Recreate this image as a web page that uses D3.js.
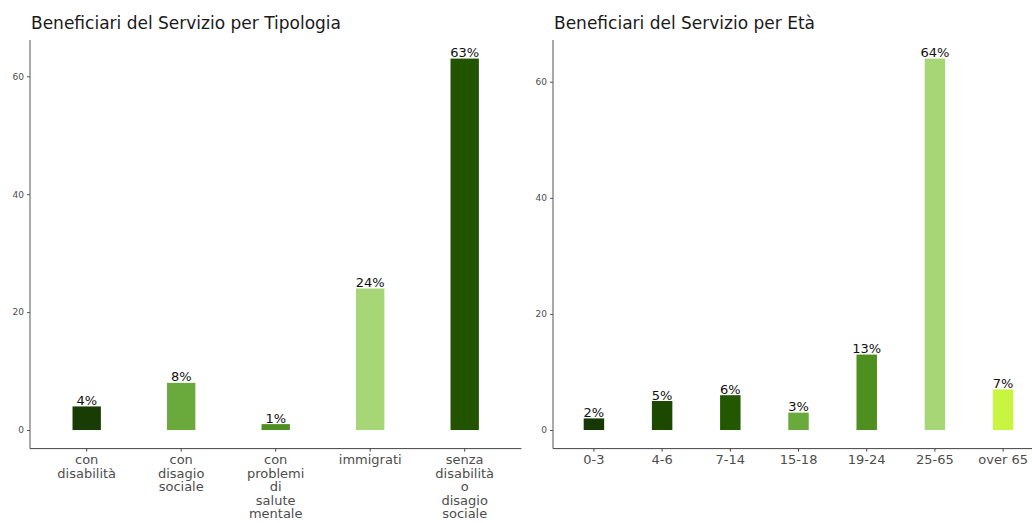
<!DOCTYPE html>
<html><head><meta charset="utf-8">
<script src="https://cdn.jsdelivr.net/npm/d3@7"></script>
<style>body{margin:0;background:#fff}svg{display:block}text{font-family:"DejaVu Sans",sans-serif}</style>
</head><body><svg id="c" width="1032" height="523"></svg>
<script>
const typeCats = ["con disabilità","con disagio sociale","con problemi di salute mentale","immigrati","senza disabilità o disagio sociale"];
const typeVals = [4, 8, 1, 24, 63];
const typeColors = ["#183c04","#6aaa3c","#4e8f1f","#a6d676","#225400"];
const ageCats = ["0-3","4-6","7-14","15-18","19-24","25-65","over 65"];
const ageVals = [2, 5, 6, 3, 13, 64, 7];
const ageColors = ["#163804","#1d4800","#245800","#6aaa3c","#4e8f1f","#a6d676","#c8f542"];
const yTicks = [0, 20, 40, 60];

const svg = d3.select("#c");

function panel(o){
  const g = svg.append("g");
  const n = o.cats.length;
  const max = d3.max(o.vals);
  const pad = max*0.05;
  const y = d3.scaleLinear().domain([-pad, max+pad]).range([448.6, 40]);
  const x = d3.scaleLinear().domain([0.4, n+0.6]).range([o.x0, o.x0 + o.unit*(n+0.2)]);
  // title
  g.append("text").attr("x", o.x0+1).attr("y", 29).attr("font-size", 17).attr("fill","#1a1a1a").text(o.title);
  // bars
  o.cats.forEach((c,i)=>{
    const cx = x(i+1), w = o.unit*0.3;
    g.append("rect").attr("x", cx-w/2).attr("width", w)
      .attr("y", y(o.vals[i])).attr("height", y(0)-y(o.vals[i])).attr("fill", o.colors[i]);
    g.append("text").attr("x", cx).attr("y", y(o.vals[i])-1.5).attr("text-anchor","middle")
      .attr("font-size", 13).attr("fill","#111").text(o.vals[i]+"%");
  });
  // y axis
  const ya = g.append("g").attr("transform",`translate(${o.x0},0)`)
    .call(d3.axisLeft(y).tickValues(yTicks).tickSize(3).tickPadding(3));
  ya.select(".domain").attr("stroke","#555").attr("stroke-width",1).attr("d",`M0,${y.range()[0]}V${y.range()[1]}`);
  ya.selectAll(".tick line").attr("stroke","#555");
  ya.selectAll(".tick text").attr("font-size", 9).attr("fill","#4d4d4d").attr("font-family","DejaVu Sans");
  // x axis
  const xa = g.append("g").attr("transform",`translate(0,${y.range()[0]})`);
  xa.append("line").attr("x1", o.x0).attr("x2", Math.min(1032, x.range()[1])).attr("y1",0).attr("y2",0).attr("stroke","#444");
  o.cats.forEach((c,i)=>{
    const cx = x(i+1);
    xa.append("line").attr("x1",cx).attr("x2",cx).attr("y1",0).attr("y2",3).attr("stroke","#444");
    const words = o.wrap ? c.split(" ") : [c];
    const t = xa.append("text").attr("text-anchor","middle").attr("font-size",o.fs).attr("fill","#4d4d4d");
    words.forEach((w,k)=>{
      t.append("tspan").attr("x",cx).attr("y", 15.5 + k*13.5).text(w);
    });
  });
}

panel({title:"Beneficiari del Servizio per Tipologia", cats:typeCats, vals:typeVals, colors:typeColors, x0:30, unit:94.5, wrap:true, fs:13});
panel({title:"Beneficiari del Servizio per Età", cats:ageCats, vals:ageVals, colors:ageColors, x0:553, unit:68.2, wrap:false, fs:13});
</script></body></html>
